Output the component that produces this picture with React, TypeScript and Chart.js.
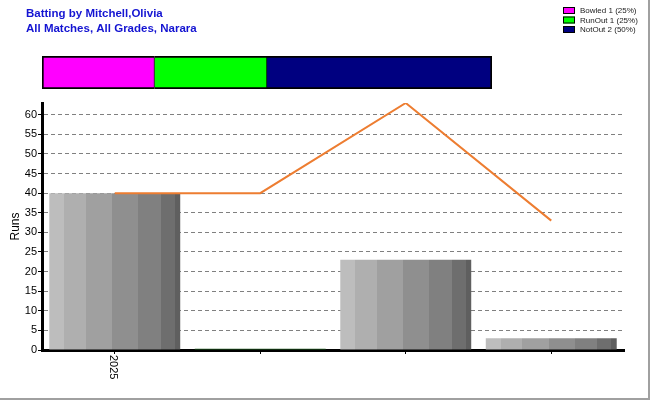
import React, { useEffect, useRef } from "react";
import { Chart, registerables } from "chart.js";

Chart.register(...registerables);

// ---- data ----
const titleLines = ["Batting by Mitchell,Olivia", "All Matches, All Grades, Narara"];
const categories = ["2025", "", "", ""];
const runs = [40, 0.3, 23, 3];
const trend = [40, 40, 63, 33];
const yMax = 63;
const yTicks = [0, 5, 10, 15, 20, 25, 30, 35, 40, 45, 50, 55, 60];
const dismissalNames = ["Bowled", "RunOut", "NotOut"];
const dismissalCounts = [1, 1, 2];
const dismissalColors = ["#ff00ff", "#00ff00", "#000080"];
const yTitle = "Runs";

const stripeStops = [0, 0.115, 0.28, 0.48, 0.68, 0.85, 0.96, 1];
const stripeColors = ["#bdbdbd", "#afafaf", "#a0a0a0", "#8f8f8f", "#808080", "#6e6e6e", "#5f5f5f"];

function barFill(context: any) {
  const chart = context.chart;
  const i = context.dataIndex;
  if (i === undefined) return "#999999";
  if (i === 1) return "#1f5a1f";
  const xs = chart.scales && chart.scales.x;
  if (!xs || !chart.chartArea) return "#999999";
  const cx = xs.getPixelForValue(i);
  const w = (xs.width / categories.length) * 0.9;
  const g = chart.ctx.createLinearGradient(cx - w / 2, 0, cx + w / 2, 0);
  for (let k = 0; k < stripeColors.length; k++) {
    g.addColorStop(stripeStops[k], stripeColors[k]);
    g.addColorStop(Math.max(stripeStops[k], stripeStops[k + 1] - 0.0001), stripeColors[k]);
  }
  return g;
}

const xLabelPlugin = {
  id: "xLabels",
  afterDraw(chart: any) {
    const ctx = chart.ctx;
    const xs = chart.scales.x;
    ctx.save();
    ctx.fillStyle = "#000";
    ctx.font = "11px Arial, 'Liberation Sans', sans-serif";
    ctx.textAlign = "left";
    ctx.textBaseline = "middle";
    categories.forEach((c, i) => {
      if (!c) return;
      const x = xs.getPixelForValue(i);
      ctx.save();
      ctx.translate(x - 2, chart.chartArea.bottom + 5);
      ctx.rotate(Math.PI / 2);
      ctx.fillText(c, 0, 0);
      ctx.restore();
    });
    ctx.restore();
  },
};

const headerPlugin = {
  id: "header",
  afterDraw(chart: any) {
    const ctx = chart.ctx;
    ctx.save();
    ctx.fillStyle = "#1414d2";
    ctx.font = "bold 11.5px Arial, 'Liberation Sans', sans-serif";
    ctx.textAlign = "left";
    ctx.textBaseline = "alphabetic";
    titleLines.forEach((t, i) => ctx.fillText(t, 26, 17 + i * 15));
    const total = dismissalCounts.reduce((a, b) => a + b, 0);
    ctx.font = "8px Arial, 'Liberation Sans', sans-serif";
    ctx.textBaseline = "middle";
    dismissalNames.forEach((n, i) => {
      const y = 7 + i * 9.5;
      ctx.fillStyle = dismissalColors[i];
      ctx.fillRect(563, y, 12, 7);
      ctx.strokeStyle = "#000";
      ctx.lineWidth = 1;
      ctx.strokeRect(563.5, y + 0.5, 11, 6);
      ctx.fillStyle = "#222";
      const pct = Math.round((dismissalCounts[i] / total) * 100);
      ctx.fillText(`${n} ${dismissalCounts[i]} (${pct}%)`, 580, y + 4);
    });
    ctx.restore();
  },
};

export default function App() {
  const mainRef = useRef<HTMLCanvasElement>(null);
  const topRef = useRef<HTMLCanvasElement>(null);

  useEffect(() => {
    const main = new Chart(mainRef.current as HTMLCanvasElement, {
      type: "bar",
      data: {
        labels: categories,
        datasets: [
          {
            type: "line",
            data: trend,
            borderColor: "#ed7d31",
            borderWidth: 2,
            pointRadius: 0,
            fill: false,
            tension: 0,
            order: 0,
          } as any,
          {
            type: "bar",
            data: runs,
            backgroundColor: barFill as any,
            borderWidth: 0,
            barPercentage: 0.9,
            categoryPercentage: 1,
            order: 1,
          },
        ],
      },
      options: {
        responsive: false,
        animation: false,
        layout: { padding: { left: 0, top: 103, right: 26, bottom: 0 } },
        plugins: { legend: { display: false }, tooltip: { enabled: false }, title: { display: false } },
        scales: {
          x: {
            ticks: { display: false },
            grid: { drawOnChartArea: false, drawTicks: true, tickLength: 4, tickColor: "#000", offset: false },
            border: { display: true, color: "#000", width: 3 },
            afterFit: (s: any) => {
              s.height = 50;
            },
          },
          y: {
            min: 0,
            max: yMax,
            ticks: {
              color: "#000",
              padding: 1,
              font: { family: "Arial, 'Liberation Sans', sans-serif", size: 11 },
            },
            afterBuildTicks: (s: any) => {
              s.ticks = yTicks.map((v) => ({ value: v }));
            },
            grid: { color: "#808080", lineWidth: 1, tickLength: 4, tickColor: "#000" },
            border: { display: true, color: "#000", width: 3, dash: [4, 3] },
            title: {
              display: true,
              text: yTitle,
              color: "#000",
              padding: { top: 8, bottom: 0 },
              font: { family: "Arial, 'Liberation Sans', sans-serif", size: 12 },
            },
            afterFit: (s: any) => {
              s.width = 42;
            },
          },
        },
      },
      plugins: [xLabelPlugin],
    });

    const top = new Chart(topRef.current as HTMLCanvasElement, {
      type: "bar",
      data: {
        labels: [""],
        datasets: dismissalNames.map((n, i) => ({
          label: n,
          data: [dismissalCounts[i]],
          backgroundColor: dismissalColors[i],
          borderColor: "#000",
          borderWidth: {
            top: 2,
            bottom: 2,
            left: i === 0 ? 2 : 0,
            right: i === dismissalNames.length - 1 ? 2 : 1,
          },
          borderSkipped: false,
          barPercentage: 1,
          categoryPercentage: 1,
        })) as any,
      },
      options: {
        indexAxis: "y",
        responsive: false,
        animation: false,
        layout: { padding: { left: 42, top: 56, right: 158, bottom: 6 } },
        plugins: { legend: { display: false }, tooltip: { enabled: false } },
        scales: {
          x: { stacked: true, display: false, min: 0, max: dismissalCounts.reduce((a, b) => a + b, 0) },
          y: { stacked: true, display: false },
        },
      },
      plugins: [headerPlugin],
    });

    return () => {
      main.destroy();
      top.destroy();
    };
  }, []);

  return (
    <div
      style={{
        position: "fixed",
        left: 0,
        top: 0,
        width: 650,
        height: 400,
        background: "#fff",
        boxSizing: "border-box",
        borderRight: "2px solid #a0a0a0",
        borderBottom: "2px solid #a0a0a0",
      }}
    >
      <canvas ref={mainRef} width={650} height={400} style={{ position: "absolute", left: 0, top: 0 }} />
      <canvas ref={topRef} width={650} height={95} style={{ position: "absolute", left: 0, top: 0 }} />
    </div>
  );
}
